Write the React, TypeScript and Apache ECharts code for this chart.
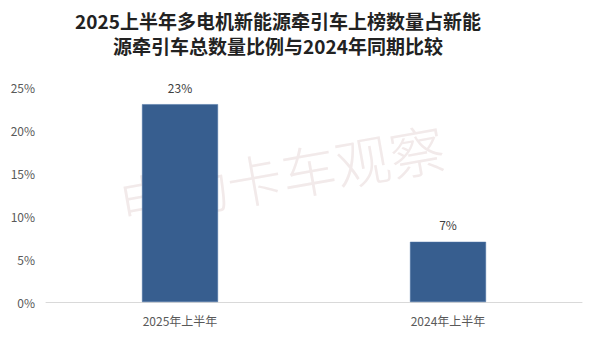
import React, { useEffect, useRef } from "react";
import * as echarts from "echarts";

const categories = ["2025年上半年", "2024年上半年"];
const shares = [23, 7];
const yTicks = [0, 5, 10, 15, 20, 25];
const titleLines = ["2025上半年多电机新能源牵引车上榜数量占新能", "源牵引车总数量比例与2024年同期比较"];
const watermark = "电动卡车观察";

const FONT = '"Noto Sans CJK SC", "Noto Sans", sans-serif';

export default function App() {
  const ref = useRef<HTMLDivElement>(null);
  useEffect(() => {
    if (!ref.current) return;
    const chart = echarts.init(ref.current, null, { renderer: "svg" });
    chart.setOption({
      animation: false,
      backgroundColor: "#ffffff",
      textStyle: { fontFamily: FONT },
      graphic: [
        {
          type: "text",
          x: 278,
          y: 8,
          z: 10,
          style: {
            text: titleLines.join("\n"),
            fontFamily: FONT,
            fontSize: 19,
            fontWeight: "bold",
            lineHeight: 25,
            fill: "#222222",
            align: "center",
            verticalAlign: "top",
          },
        },
        {
          type: "text",
          x: 281,
          y: 173,
          rotation: (10 * Math.PI) / 180,
          z: -1,
          style: {
            text: watermark,
            fontFamily: FONT,
            fontSize: 55,
            fontWeight: 300,
            fill: "#f2eaea",
            align: "center",
            verticalAlign: "middle",
          },
        },
      ],
      grid: { left: 46, right: 18, top: 87, bottom: 40, containLabel: false },
      xAxis: {
        type: "category",
        data: categories,
        axisLine: { show: true, lineStyle: { color: "#d9d9d9", width: 1 } },
        axisTick: { show: false },
        axisLabel: { color: "#595959", fontSize: 12, margin: 12, fontFamily: FONT },
      },
      yAxis: {
        type: "value",
        min: yTicks[0],
        max: yTicks[yTicks.length - 1],
        interval: 5,
        axisLine: { show: false },
        axisTick: { show: false },
        splitLine: { show: false },
        axisLabel: { color: "#595959", fontSize: 12, margin: 11, formatter: "{value}%", fontFamily: FONT },
      },
      series: [
        {
          type: "bar",
          data: shares,
          barWidth: 76,
          itemStyle: { color: "#375e8f", borderColor: "#4a72a4", borderWidth: 0.5 },
          label: {
            show: true,
            position: "top",
            distance: 11,
            formatter: "{c}%",
            color: "#404040",
            fontSize: 12,
            fontFamily: FONT,
          },
        },
      ],
    });
    return () => chart.dispose();
  }, []);
  return <div ref={ref} style={{ position: "fixed", left: 0, top: 0, width: 600, height: 342 }} />;
}
